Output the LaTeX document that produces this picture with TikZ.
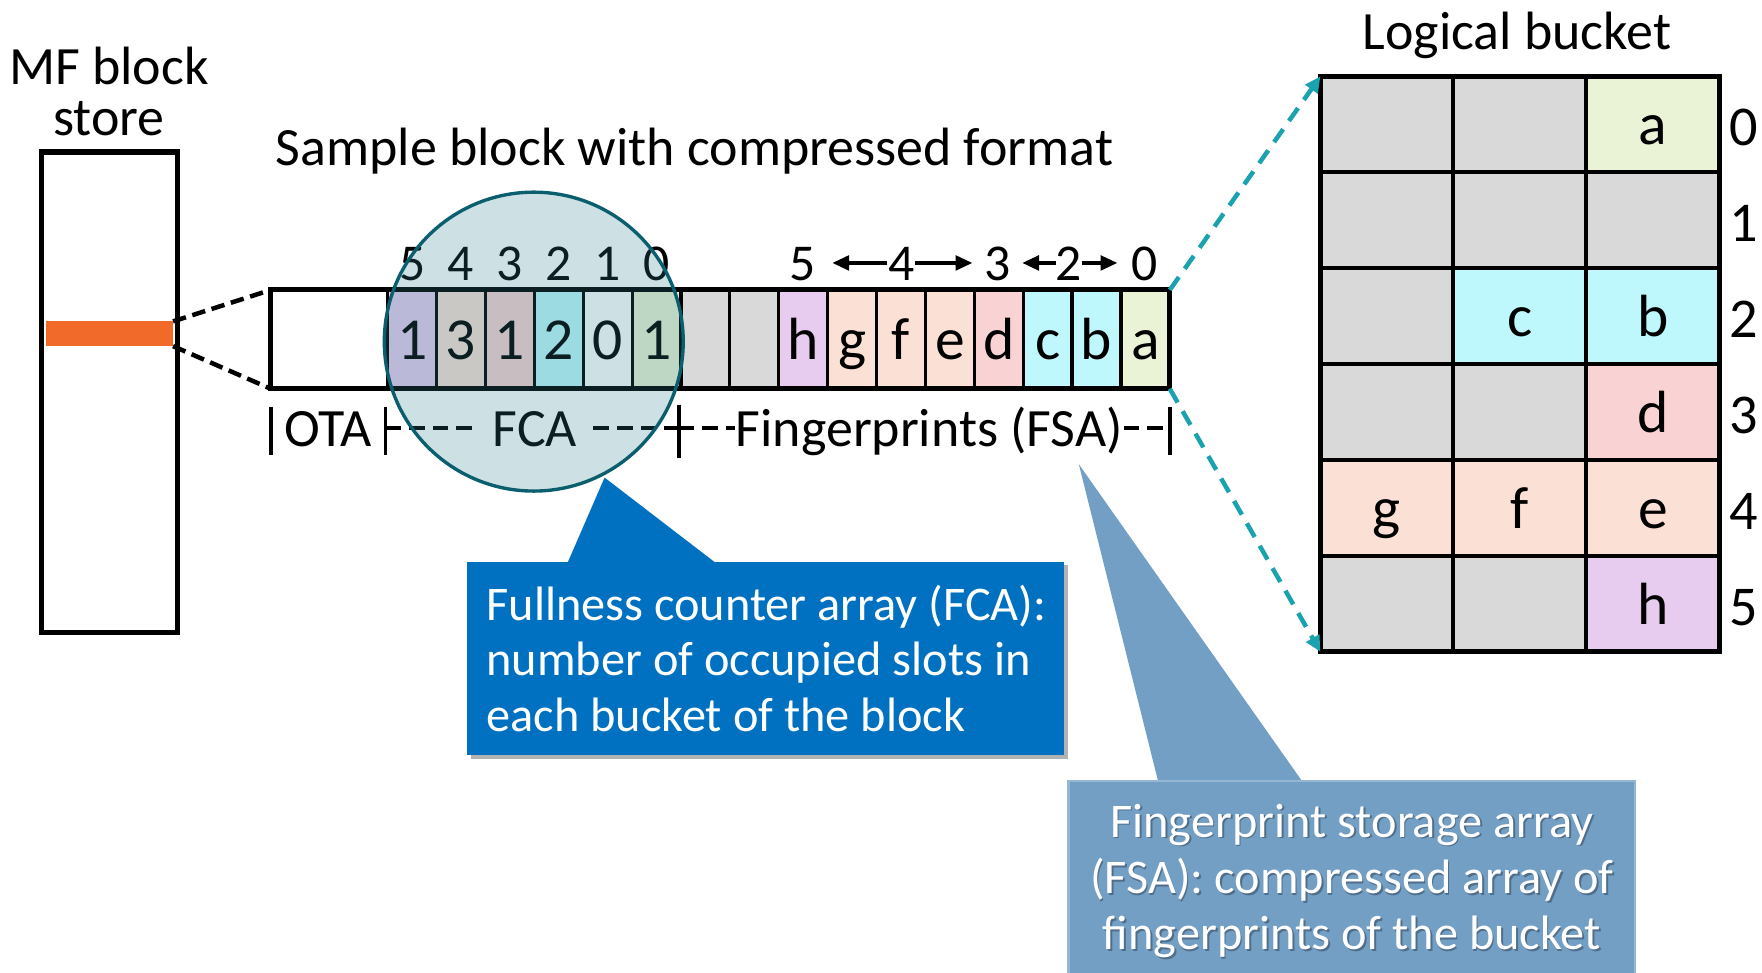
\documentclass[tikz,border=0pt]{standalone}
\usepackage{fontspec}
\setmainfont{Carlito}
\usetikzlibrary{arrows.meta}

\definecolor{cLav}{HTML}{E8CCF0}
\definecolor{cPeach}{HTML}{FBE0D6}
\definecolor{cPink}{HTML}{F9D3D3}
\definecolor{cCyan}{HTML}{BEF8FC}
\definecolor{cGreen}{HTML}{EBF3D6}
\definecolor{cGray}{HTML}{D9D9D9}
\definecolor{cOrange}{HTML}{F26A2A}
\definecolor{cTeal}{HTML}{1AA3AF}
\definecolor{cRing}{HTML}{0B5E6E}
\definecolor{cRingFill}{HTML}{2F7F8F}
\definecolor{cCallA}{HTML}{0070C0}
\definecolor{cCallB}{HTML}{739FC5}

\begin{document}
\begin{tikzpicture}[x=1pt,y=-1pt,
  every node/.style={inner sep=0pt, outer sep=0pt},
  lbl/.style={font=\fontsize{48}{48}\selectfont, anchor=base},
  idx/.style={font=\fontsize{46}{46}\selectfont, anchor=base},
  rowno/.style={font=\fontsize{50}{50}\selectfont, anchor=base},
  note/.style={font=\fontsize{43}{43}\selectfont, text=white},
  noteshade/.style={font=\fontsize{43}{43}\selectfont, text=black, text opacity=0.3},
  cell/.style={draw, line width=2.8pt, minimum width=43.5pt, minimum height=88pt,
    text height=42pt, text depth=6pt, font=\fontsize{53}{53}\selectfont},
  slot/.style={draw, line width=3.5pt, minimum width=118.33pt, minimum height=85.33pt,
    text height=40pt, text depth=4pt, font=\fontsize{53}{53}\selectfont},
  bracket/.style={line width=3.4pt},
  dashbr/.style={line width=3.6pt, dash pattern=on 14pt off 7pt},
  zoomline/.style={line width=4pt, dash pattern=on 12pt off 6pt},
  tealdash/.style={draw=cTeal, line width=4pt, dash pattern=on 14pt off 9pt,
    -{Triangle[length=14pt,width=13pt]}},
  sizearrow/.style={line width=3.2pt, -{Triangle[length=15pt,width=13pt]}}
]
\useasboundingbox (0,0) rectangle (1568,865);
\clip (0,0) rectangle (1568,865);

% block store column
\node[lbl] (mf1) at (97,75) {MF block};
\node[lbl] (mf2) at (97,121) {store};
\node[draw, line width=5pt, minimum width=121pt, minimum height=428pt] (mfstore) at (97.5,349) {};
\node[fill=cOrange, minimum width=113pt, minimum height=22pt] (mfline) at (97.5,297) {};

% one block in compressed form
\node[lbl] (title) at (618,147) {Sample block with compressed format};
\node[draw, line width=2.8pt, minimum width=104pt, minimum height=88pt] (ota) at (293,302) {};
\foreach \lab/\col [count=\i from 0] in
  {1/cLav,3/cPeach,1/cPink,2/cCyan,0/white,1/cGreen,\relax/cGray,\relax/cGray,
   h/cLav,g/cPeach,f/cPeach,e/cPeach,d/cPink,c/cCyan,b/cCyan,a/cGreen}
  \node[cell, fill=\col] (s\i) at ({345+43.5*(\i+0.5)},302) {\lab};
\draw[line width=4.4pt] (ota.north west) rectangle (s15.south east);

\draw[zoomline] (mfline.north east) -- (ota.north west);
\draw[zoomline] (mfline.south east) -- (ota.south west);

% bucket indices over the counters
\foreach \n [count=\i from 0] in {5,4,3,2,1,0}
  \node[idx] (f\i) at ({345+43.5*(\i+0.5)},250) {\n};

% bucket indices over the fingerprints
\node[idx] (b5) at (714,250) {5};
\node[idx] (b4) at (802,250) {4};
\node[idx] (b3) at (888,250) {3};
\node[idx] (b2) at (951,250) {2};
\node[idx] (b0) at (1019,250) {0};
\draw[sizearrow] ([xshift=-1pt,yshift=16pt]b4.base west) -- ([xshift=15pt,yshift=16pt]b5.base east);
\draw[sizearrow] ([xshift=1pt,yshift=16pt]b4.base east) -- ([xshift=-11pt,yshift=16pt]b3.base west);
\draw[sizearrow] ([xshift=0pt,yshift=16pt]b2.base west) -- ([xshift=10pt,yshift=16pt]b3.base east);
\draw[sizearrow] ([xshift=0pt,yshift=16pt]b2.base east) -- ([xshift=-13pt,yshift=16pt]b0.base west);

% region brackets
\draw[bracket] (241,362) -- (241,405);
\draw[bracket] (343,362) -- (343,405);
\draw[bracket] (604,360) -- (604,408);
\draw[bracket] (1041,362) -- (1041,405);
\node[lbl] (otalbl) at (292,397) {OTA};
\node[lbl] (fcalbl) at (476,397) {FCA};
\node[lbl] (fsalbl) at (827,397) {Fingerprints (FSA)};
\draw[dashbr] (343,381) -- (420,381);
\draw[dashbr] (528,381) -- (604,381);
\draw[dashbr] (604,381) -- (654,381);
\draw[dashbr] (1000,381) -- (1041,381);

% lens over the counter array
\node[circle, draw=cRing, line width=3pt, fill=cRingFill, fill opacity=0.24,
  minimum size=266pt] (lens) at (475,304) {};

% logical bucket grid
\node[lbl] (gtitle) at (1350,44) {Logical bucket};
\foreach \r/\ta/\ca/\tb/\cb/\tc/\cc in
  {0/\relax/cGray/\relax/cGray/a/cGreen,
   1/\relax/cGray/\relax/cGray/\relax/cGray,
   2/\relax/cGray/c/cCyan/b/cCyan,
   3/\relax/cGray/\relax/cGray/d/cPink,
   4/g/cPeach/f/cPeach/e/cPeach,
   5/\relax/cGray/\relax/cGray/h/cLav}{
  \node[slot, fill=\ca] (g\r-0) at (1234.17,{68+85.33*(\r+0.5)}) {\ta};
  \node[slot, fill=\cb] (g\r-1) at (1352.5,{68+85.33*(\r+0.5)}) {\tb};
  \node[slot, fill=\cc] (g\r-2) at (1470.83,{68+85.33*(\r+0.5)}) {\tc};
  \node[rowno] (row\r) at (1552,{68+85.33*(\r+0.5)+19}) {\r};
}
\draw[line width=4.5pt] (g0-0.north west) rectangle (g5-2.south east);

\draw[tealdash] (s15.north east) -- (g0-0.north west);
\draw[tealdash] (s15.south east) -- (g5-0.south west);

% callout for the counter array
\coordinate (tipA) at (538,425);
\fill[black, opacity=0.3] (419,503) rectangle (950,675);
\node[fill=cCallA, minimum width=531pt, minimum height=172pt] (fcabox) at (681.5,586) {};
\fill[cCallA] (505,501) -- (tipA) -- (637,501) -- cycle;
\node[note, anchor=base west] (fca1) at (433,552) {Fullness counter array (FCA):};
\node[note, anchor=base west] (fca2) at (433,601) {number of occupied slots in};
\node[note, anchor=base west] (fca3) at (433,651) {each bucket of the block};

% callout for the fingerprint array, soft-edged
\coordinate (tipB) at (960,413);
\fill[cCallB] (1031,697) -- (tipB) -- (1160,697) -- cycle;
\node[fill=cCallB, draw=cCallB!75!white, line width=2.5pt,
  minimum width=504pt, minimum height=200pt] (fsabox) at (1203,795) {};
\node[noteshade, anchor=base] (fsa1s) at (1204.5,746.5) {Fingerprint storage array};
\node[noteshade, anchor=base] (fsa2s) at (1204.5,796.5) {(FSA): compressed array of};
\node[noteshade, anchor=base] (fsa3s) at (1204.5,846.5) {fingerprints of the bucket};
\node[note, anchor=base] (fsa1) at (1203,745) {Fingerprint storage array};
\node[note, anchor=base] (fsa2) at (1203,795) {(FSA): compressed array of};
\node[note, anchor=base] (fsa3) at (1203,845) {fingerprints of the bucket};
\end{tikzpicture}
\end{document}
